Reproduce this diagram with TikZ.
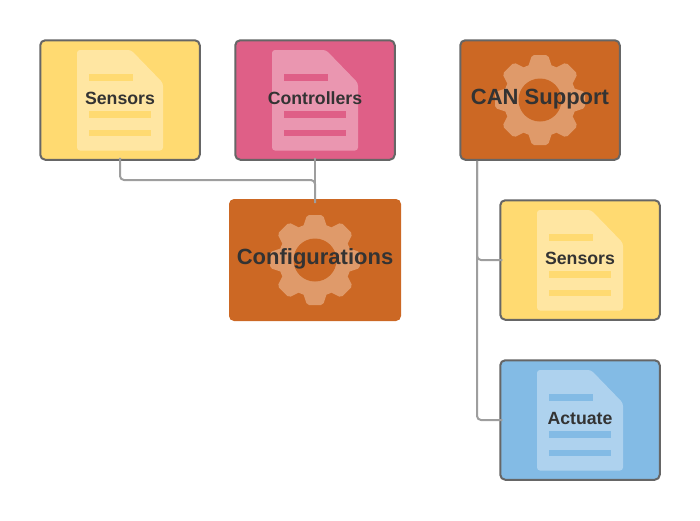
\documentclass[tikz,border=0pt]{standalone}
\usepackage{fontspec}
\setmainfont{Liberation Sans}
\definecolor{sensoryellow}{HTML}{FFDA71}
\definecolor{ctrlpink}{HTML}{DF5F87}
\definecolor{supportorange}{HTML}{CC6824}
\definecolor{actuateblue}{HTML}{83BBE5}
\definecolor{gearlight}{HTML}{DF9A6A}
\definecolor{edgegray}{HTML}{666666}
\definecolor{wiregray}{HTML}{9E9E9E}
\definecolor{labeldark}{HTML}{333333}
\tikzset{
  docfile/.pic={
    \fill[white,fill opacity=0.35,rounded corners=3] (-43,-50) -- (11,-50) -- (43,-17) -- (43,50.5) -- (-43,50.5) -- cycle;
    \fill[#1] (-31,-26) rectangle (13,-19);
    \fill[#1] (-31,11) rectangle (31,18);
    \fill[#1] (-31,30) rectangle (31,36);
  },
  gearwheel/.pic={
    \foreach \a in {0,45,...,315}
      \fill[gearlight,rotate=\a,rounded corners=2] (-12,-33) -- (-8,-45) -- (8,-45) -- (12,-33) -- cycle;
    \fill[gearlight] (0,0) circle (36.5);
    \fill[supportorange] (0,0) circle (21.5);
  },
  tile/.style={rectangle,rounded corners=5,line width=2pt,draw=edgegray,minimum width=159.5pt,minimum height=119.5pt,inner sep=0pt},
  smalltext/.style={text=labeldark,yshift=2pt,font=\fontsize{17.7}{20}\selectfont\bfseries},
  largetext/.style={text=labeldark,yshift=1pt,font=\fontsize{22}{26}\selectfont\bfseries},
  wire/.style={wiregray,line width=2pt,rounded corners=4}
}
\begin{document}
\begin{tikzpicture}[x=1pt,y=-1pt]
\useasboundingbox (0,0) rectangle (700,520);
\node[tile,fill=sensoryellow] (sensorsleft) at (120,100) {};
\node[tile,fill=ctrlpink] (controllers) at (315,100) {};
\node[tile,fill=supportorange] (cansupport) at (540,100) {};
\node[tile,fill=supportorange,draw=none,minimum width=172pt,minimum height=122pt] (configurations) at (315,260) {};
\node[tile,fill=sensoryellow] (sensorsright) at (580,260) {};
\node[tile,fill=actuateblue] (actuate) at (580,420) {};
\pic at (sensorsleft) {docfile=sensoryellow};
\pic at (controllers) {docfile=ctrlpink};
\pic at (sensorsright) {docfile=sensoryellow};
\pic at (actuate) {docfile=actuateblue};
\pic at (cansupport) {gearwheel};
\pic at (configurations) {gearwheel};
\node[smalltext] (sensorsleftlabel) at (sensorsleft) {Sensors};
\node[smalltext] (controllerslabel) at (controllers) {Controllers};
\node[largetext] (cansupportlabel) at (cansupport) {CAN Support};
\node[largetext] (configurationslabel) at (configurations) {Configurations};
\node[smalltext] (sensorsrightlabel) at (sensorsright) {Sensors};
\node[smalltext] (actuatelabel) at (actuate) {Actuate};
\coordinate (busjoin) at (315,180);
\draw[wire] ([yshift=3pt]sensorsleft.south) |- (busjoin) -- ([yshift=-5pt]configurations.north);
\draw[wire] ([yshift=3pt]controllers.south) -- ([yshift=-5pt]configurations.north);
\draw[wire] ([xshift=-63pt]cansupport.south) |- ([xshift=3pt]sensorsright.west);
\draw[wire] ([xshift=-63pt]cansupport.south) |- ([xshift=3pt]actuate.west);
\end{tikzpicture}
\end{document}
